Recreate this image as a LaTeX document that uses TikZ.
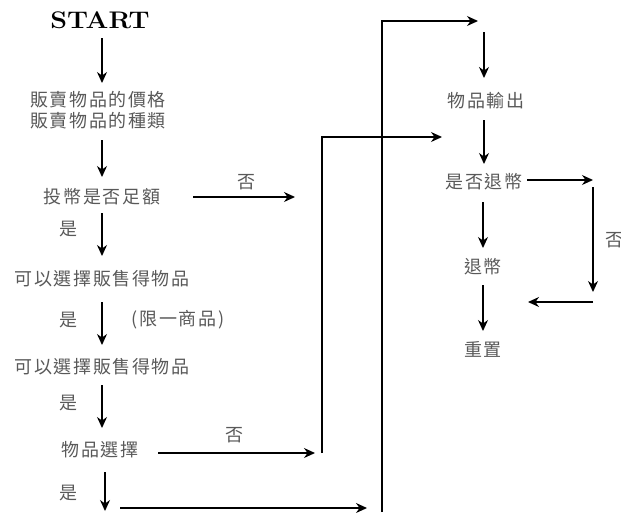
\documentclass[tikz,border=0pt]{standalone}
\usepackage{fontspec}
\newfontfamily\cjk[LetterSpace=9]{Noto Sans CJK TC}
\usetikzlibrary{arrows.meta}
\tikzset{
  lbl/.style={font=\cjk\fontsize{18}{20}\selectfont, text=black!65, inner sep=0pt, anchor=center},
  arr/.style={line width=1.3pt, -{Stealth[length=11pt,width=10pt]}}
}
\begin{document}
\begin{tikzpicture}[x=1pt,y=-1pt]
\useasboundingbox (0,0) rectangle (621,512);
% nodes
\node[inner sep=0pt] (start) at (100,20) {\scalebox{1.12}[1]{\fontsize{24}{26}\selectfont\bfseries START}};
\node[lbl] (price) at (98,100) {販賣物品的價格};
\node[lbl] (kind) at (98,121) {販賣物品的種類};
\node[lbl] (coin) at (102,197) {投幣是否足額};
\node[lbl] (no1) at (246,182) {否};
\node[lbl] (yes1) at (68,229) {是};
\node[lbl] (sel1) at (102,279) {可以選擇販售得物品};
\node[lbl] (yes2) at (68,320) {是};
\node[lbl] (limit) at (178,320) {(限一商品)};
\node[lbl] (sel2) at (102,367) {可以選擇販售得物品};
\node[lbl] (yes3) at (68,403) {是};
\node[lbl] (choose) at (100,450) {物品選擇};
\node[lbl] (no2) at (234,435) {否};
\node[lbl] (yes4) at (68,493) {是};
\node[lbl] (out) at (486,101) {物品輸出};
\node[lbl] (refq) at (484,182) {是否退幣};
\node[lbl] (no3) at (614,240) {否};
\node[lbl] (refund) at (483,267) {退幣};
\node[lbl] (reset) at (483,349) {重置};
% coordinates
\coordinate (a1s) at (102,38);  \coordinate (a1e) at (102,83);
\coordinate (a2s) at (102,140); \coordinate (a2e) at (102,177);
\coordinate (a3s) at (193,197); \coordinate (a3e) at (295,197);
\coordinate (a4s) at (102,213); \coordinate (a4e) at (102,256);
\coordinate (a5s) at (102,302); \coordinate (a5e) at (102,345);
\coordinate (a6s) at (102,385); \coordinate (a6e) at (102,428);
\coordinate (a7s) at (158,453); \coordinate (a7e) at (315,453);
\coordinate (l8a) at (322,453); \coordinate (l8b) at (322,137); \coordinate (l8e) at (442,137);
\coordinate (a9s) at (105,472); \coordinate (a9e) at (105,511);
\coordinate (a10s) at (120,508); \coordinate (a10e) at (367,508);
\coordinate (l11a) at (382,512); \coordinate (l11b) at (382,21); \coordinate (l11e) at (478,21);
\coordinate (a12s) at (484,32); \coordinate (a12e) at (484,78);
\coordinate (a13s) at (484,120); \coordinate (a13e) at (484,164);
\coordinate (a14s) at (527,180); \coordinate (a14e) at (593,180);
\coordinate (a15s) at (593,187); \coordinate (a15e) at (593,292);
\coordinate (a16s) at (593,302); \coordinate (a16e) at (528,302);
\coordinate (a17s) at (483,202); \coordinate (a17e) at (483,248);
\coordinate (a18s) at (483,285); \coordinate (a18e) at (483,331);
% connectors
\draw[arr] (a1s) -- (a1e);
\draw[arr] (a2s) -- (a2e);
\draw[arr] (a3s) -- (a3e);
\draw[arr] (a4s) -- (a4e);
\draw[arr] (a5s) -- (a5e);
\draw[arr] (a6s) -- (a6e);
\draw[arr] (a7s) -- (a7e);
\draw[arr] (l8a) -- (l8b) -- (l8e);
\draw[arr] (a9s) -- (a9e);
\draw[arr] (a10s) -- (a10e);
\draw[arr] (l11a) -- (l11b) -- (l11e);
\draw[arr] (a12s) -- (a12e);
\draw[arr] (a13s) -- (a13e);
\draw[arr] (a14s) -- (a14e);
\draw[arr] (a15s) -- (a15e);
\draw[arr] (a16s) -- (a16e);
\draw[arr] (a17s) -- (a17e);
\draw[arr] (a18s) -- (a18e);
\end{tikzpicture}
\end{document}
